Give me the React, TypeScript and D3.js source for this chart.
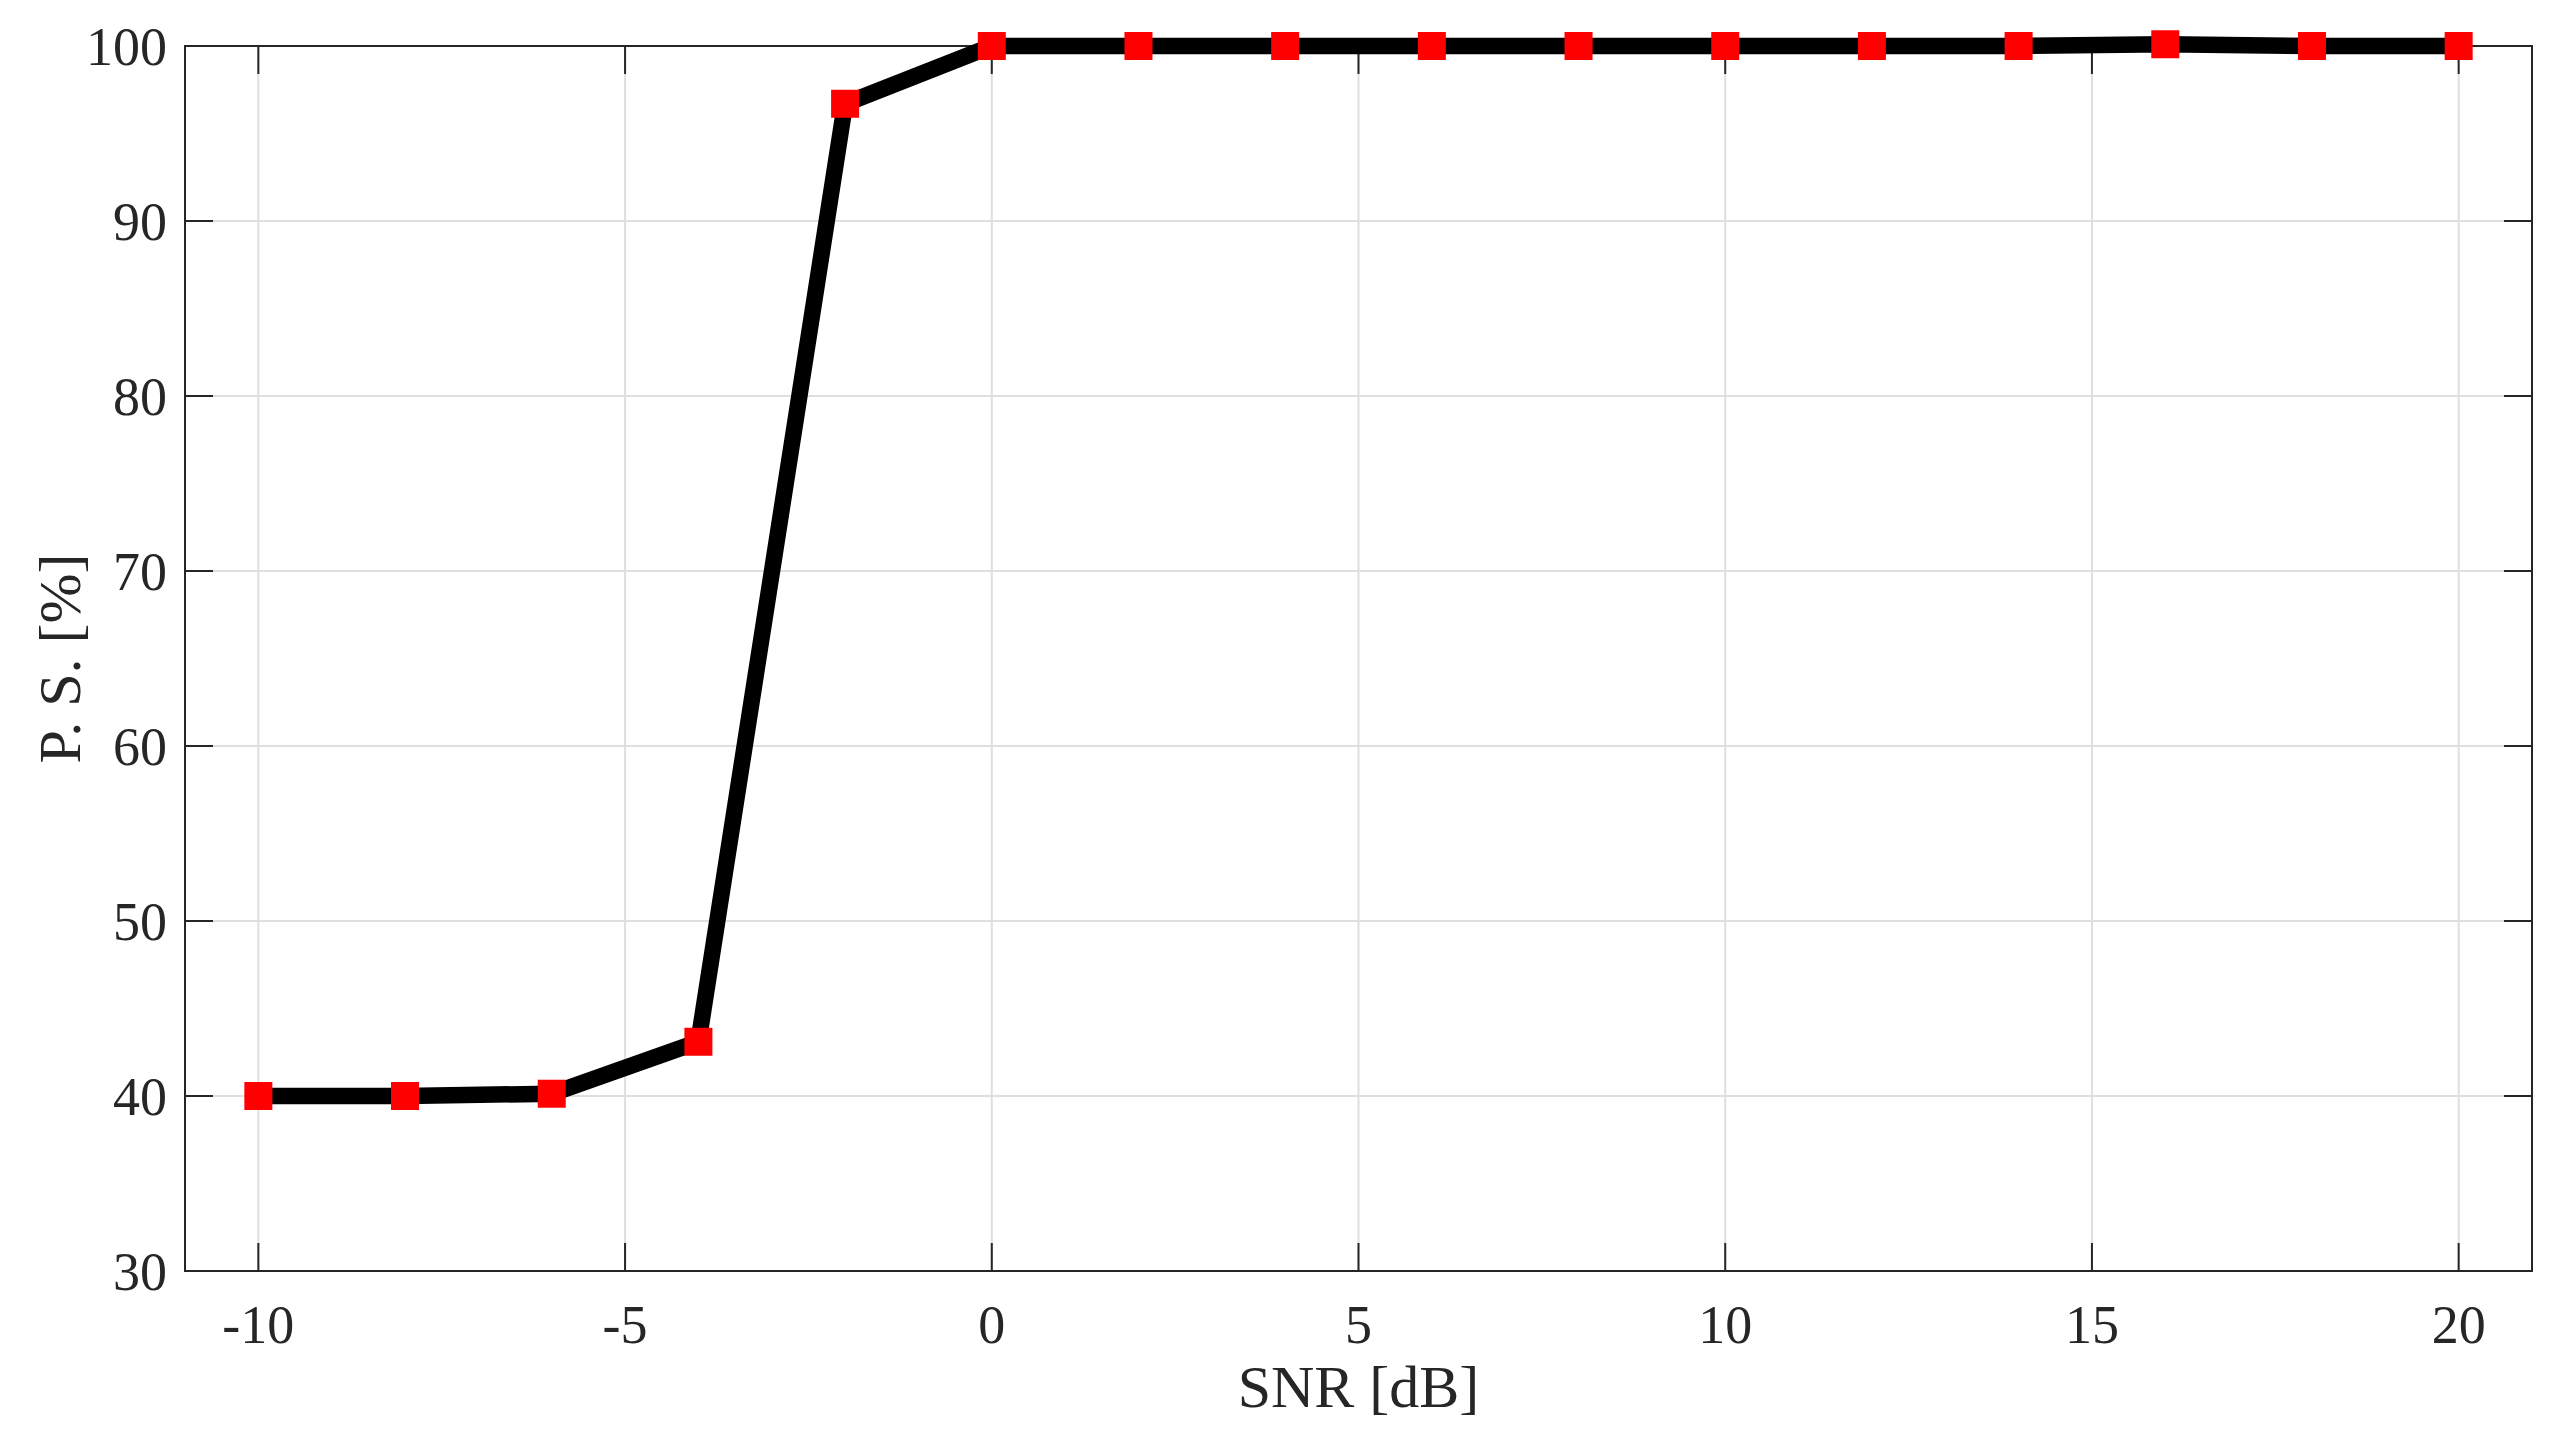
import React from 'react';
import * as d3 from 'd3';

// SNR sweep and the measured P. S. values
const snrValues = [-10, -8, -6, -4, -2, 0, 2, 4, 6, 8, 10, 12, 14, 16, 18, 20];
const psValues = [40, 40, 40.13, 43.1, 96.7, 100, 100, 100, 100, 100, 100, 100, 100, 100.1, 100, 100];
const xTicks = [-10, -5, 0, 5, 10, 15, 20];
const yTicks = [30, 40, 50, 60, 70, 80, 90, 100];

const W = 2559, H = 1439;
const margins = {top: 46, right: 27, bottom: 168, left: 185};
const axisColor = '#262626';
const font = '"Liberation Serif", "Times New Roman", serif';

const App = () => {
    const x = d3.scaleLinear().domain([-11, 21]).range([margins.left, W - margins.right]);
    const y = d3.scaleLinear().domain([30, 100]).range([H - margins.bottom, margins.top]);
    const [x0, x1] = x.range();
    const [y0, y1] = y.range();
    const tickLen = 28;

    const line = d3.line<number>()
        .x((d, i) => x(snrValues[i]))
        .y(d => y(d));

    const msize = 28;

    return (
        <svg width={W} height={H} style={{position: 'absolute', left: 0, top: 0, background: '#fff'}}>
            {/* grid */}
            <g stroke="#dfdfdf" strokeWidth={2}>
                {xTicks.map(t => <line key={'gx' + t} x1={x(t)} x2={x(t)} y1={y1} y2={y0} />)}
                {yTicks.map(t => <line key={'gy' + t} x1={x0} x2={x1} y1={y(t)} y2={y(t)} />)}
            </g>
            {/* ticks on all four sides */}
            <g stroke={axisColor} strokeWidth={2}>
                {xTicks.map(t => (
                    <g key={'tx' + t}>
                        <line x1={x(t)} x2={x(t)} y1={y0} y2={y0 - tickLen} />
                        <line x1={x(t)} x2={x(t)} y1={y1} y2={y1 + tickLen} />
                    </g>
                ))}
                {yTicks.map(t => (
                    <g key={'ty' + t}>
                        <line x1={x0} x2={x0 + tickLen} y1={y(t)} y2={y(t)} />
                        <line x1={x1} x2={x1 - tickLen} y1={y(t)} y2={y(t)} />
                    </g>
                ))}
                <rect x={x0} y={y1} width={x1 - x0} height={y0 - y1} fill="none" />
            </g>
            {/* tick labels */}
            <g fontFamily={font} fontSize={54} fill={axisColor}>
                {xTicks.map(t => (
                    <text key={'lx' + t} x={x(t)} y={y0 + 72} textAnchor="middle">{t}</text>
                ))}
                {yTicks.map(t => (
                    <text key={'ly' + t} x={x0 - 18} y={y(t)} dy="0.35em" textAnchor="end">{t}</text>
                ))}
            </g>
            {/* axis labels */}
            <text x={(x0 + x1) / 2} y={1407} textAnchor="middle" fontFamily={font} fontSize={60} fill={axisColor}>SNR [dB]</text>
            <text transform={`translate(80, ${(y0 + y1) / 2}) rotate(-90)`} textAnchor="middle" fontFamily={font} fontSize={60} fill={axisColor}>P. S. [%]</text>
            {/* series */}
            <path d={line(psValues) || ''} fill="none" stroke="#000" strokeWidth={16.5} strokeLinejoin="miter" />
            <g fill="#ff0000">
                {psValues.map((v, i) => (
                    <rect key={'m' + i} x={x(snrValues[i]) - msize / 2} y={y(v) - msize / 2} width={msize} height={msize} />
                ))}
            </g>
        </svg>
    );
};

export default App;
